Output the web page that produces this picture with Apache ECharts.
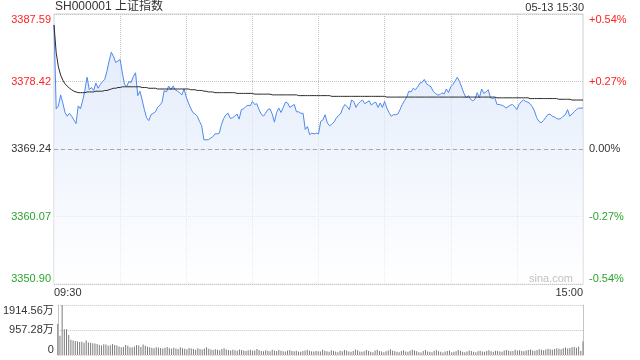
<!DOCTYPE html>
<html><head><meta charset="utf-8">
<script src="https://cdn.jsdelivr.net/npm/echarts@6/dist/echarts.min.js"></script>
<style>html,body{margin:0;padding:0;background:#fff}#c{width:640px;height:360px}</style>
</head><body><div id="c"></div>
<script>
const titleText = 'SH000001 上证指数';
const dateText = '05-13 15:30';
const watermark = 'sina.com';
const prevClose = 3369.24;
const priceTicks = ['3350.90', '3360.07', '3369.24', '3378.42', '3387.59'];
const pctTicks = ['-0.54%', '-0.27%', '0.00%', '+0.27%', '+0.54%'];
const volTicks = ['0', '957.28万', '1914.56万'];
const volMax = 1914.56;
const timeLabels = ['09:30', '15:00'];

const price = [
3386.1,3374.7,3375.1,3376.6,3375.5,3374.2,3373.7,3374.1,3373.7,3373.2,
3372.7,3375.1,3374.7,3375.8,3377.2,3379.0,3377.3,3377.6,3377.2,3378.2,
3377.5,3378.0,3378.4,3378.7,3379.8,3381.2,3382.4,3381.8,3381.0,3381.2,
3381.4,3379.6,3378.0,3377.8,3378.4,3378.3,3379.1,3379.6,3376.5,3377.1,
3375.9,3374.6,3373.5,3373.1,3373.9,3374.1,3374.3,3374.9,3375.2,3375.6,
3377.2,3377.0,3377.8,3377.3,3377.8,3377.3,3377.1,3376.9,3376.6,3377.4,
3376.3,3375.5,3374.8,3374.2,3374.0,3373.7,3373.0,3372.4,3370.5,3370.5,
3370.5,3370.7,3370.9,3371.3,3371.3,3371.4,3372.6,3373.4,3373.9,3374.1,
3373.4,3373.5,3373.7,3374.0,3373.3,3374.6,3374.7,3375.0,3375.2,3375.1,
3375.7,3375.3,3375.4,3374.6,3374.0,3373.7,3374.1,3374.6,3374.7,3374.0,
3372.9,3374.2,3374.8,3374.2,3374.9,3375.6,3375.5,3374.9,3375.1,3375.3,
3374.3,3374.3,3374.1,3374.1,3371.9,3372.3,3371.2,3371.4,3371.3,3371.4,
3371.3,3373.0,3373.2,3373.9,3372.8,3372.4,3372.6,3372.9,3373.4,3373.8,
3374.0,3374.8,3375.3,3375.0,3374.6,3375.9,3375.7,3374.9,3375.4,3375.7,
3375.9,3375.4,3375.6,3375.8,3375.2,3375.5,3375.6,3374.9,3375.5,3374.9,
3375.7,3374.8,3374.2,3373.7,3373.9,3373.9,3374.0,3374.6,3375.3,3375.8,
3376.3,3377.1,3377.0,3377.5,3377.3,3377.7,3378.2,3378.3,3378.7,3378.1,
3377.9,3377.7,3377.1,3376.8,3376.6,3376.6,3376.9,3376.7,3377.4,3376.9,
3377.7,3378.0,3378.5,3379.0,3378.4,3377.6,3376.8,3376.2,3376.5,3376.0,
3375.8,3376.0,3376.9,3376.2,3377.4,3376.8,3377.0,3377.3,3376.2,3376.1,
3376.2,3375.3,3375.3,3375.2,3375.1,3374.8,3375.0,3375.2,3375.3,3375.0,
3374.6,3375.3,3375.7,3375.9,3375.7,3375.6,3375.4,3375.0,3374.4,3373.5,
3373.0,3372.8,3373.1,3373.5,3373.9,3374.0,3373.7,3373.6,3373.4,3373.3,
3373.4,3373.7,3373.9,3374.6,3373.7,3374.0,3374.3,3374.6,3374.8,3374.8,
3374.8
];

const avgPrice = [
3386.1,3382.3,3380.4,3379.3,3378.6,3378.1,3377.8,3377.5,3377.3,3377.1,
3377.0,3376.9,3376.9,3376.9,3376.9,3377.0,3377.0,3377.0,3377.0,3377.1,
3377.1,3377.1,3377.1,3377.2,3377.2,3377.3,3377.4,3377.5,3377.5,3377.6,
3377.6,3377.7,3377.7,3377.7,3377.7,3377.7,3377.7,3377.7,3377.7,3377.7,
3377.6,3377.6,3377.6,3377.5,3377.5,3377.5,3377.5,3377.4,3377.4,3377.4,
3377.4,3377.4,3377.4,3377.4,3377.4,3377.4,3377.4,3377.4,3377.4,3377.4,
3377.4,3377.4,3377.3,3377.3,3377.3,3377.2,3377.2,3377.2,3377.1,3377.1,
3377.0,3377.0,3377.0,3376.9,3376.9,3376.9,3376.9,3376.9,3376.9,3376.9,
3376.9,3376.9,3376.9,3376.8,3376.8,3376.8,3376.8,3376.8,3376.8,3376.8,
3376.8,3376.7,3376.7,3376.7,3376.7,3376.7,3376.7,3376.7,3376.7,3376.6,
3376.6,3376.6,3376.6,3376.6,3376.6,3376.6,3376.6,3376.6,3376.6,3376.6,
3376.6,3376.5,3376.5,3376.5,3376.5,3376.5,3376.5,3376.5,3376.5,3376.5,
3376.5,3376.5,3376.5,3376.5,3376.5,3376.5,3376.4,3376.4,3376.4,3376.4,
3376.4,3376.4,3376.4,3376.4,3376.4,3376.4,3376.4,3376.4,3376.4,3376.4,
3376.4,3376.4,3376.4,3376.4,3376.4,3376.4,3376.4,3376.4,3376.4,3376.4,
3376.4,3376.3,3376.3,3376.3,3376.3,3376.3,3376.3,3376.3,3376.3,3376.3,
3376.3,3376.3,3376.3,3376.3,3376.3,3376.3,3376.3,3376.3,3376.3,3376.3,
3376.3,3376.3,3376.3,3376.3,3376.3,3376.3,3376.3,3376.3,3376.3,3376.3,
3376.3,3376.3,3376.3,3376.3,3376.3,3376.3,3376.3,3376.3,3376.3,3376.3,
3376.3,3376.3,3376.3,3376.3,3376.3,3376.3,3376.3,3376.3,3376.3,3376.3,
3376.3,3376.2,3376.2,3376.2,3376.2,3376.2,3376.2,3376.2,3376.2,3376.2,
3376.2,3376.2,3376.2,3376.2,3376.2,3376.2,3376.1,3376.1,3376.1,3376.1,
3376.1,3376.1,3376.1,3376.1,3376.1,3376.1,3376.1,3376.1,3376.1,3376.0,
3376.0,3376.0,3376.0,3376.0,3376.0,3375.9,3375.9,3375.9,3375.9,3375.9,
3375.9
];

// volume in 万
const volume = [
1200,740,1914.56,990,990,770,580,560,540,520,
500,510,470,560,480,470,450,440,420,380,
360,410,400,350,370,420,380,360,330,300,
310,380,350,300,290,330,380,360,310,400,
350,320,300,280,260,300,290,270,250,280,
310,260,240,280,250,230,300,260,240,220,
270,250,230,200,260,230,210,250,300,240,
210,190,220,200,180,230,260,210,190,170,
200,180,160,210,190,170,150,180,200,160,
170,230,190,150,140,180,160,140,200,170,
150,190,160,140,130,170,190,150,140,160,
130,120,150,170,200,160,140,130,150,140,
130,200,160,140,120,180,150,130,110,160,
140,190,170,130,120,150,210,180,130,120,
140,190,150,120,110,170,200,150,130,110,
140,170,220,160,140,120,110,150,180,130,
120,160,200,170,140,110,100,150,190,130,
120,110,160,180,140,120,100,130,150,170,
110,120,140,190,160,120,110,130,170,150,
120,110,140,160,130,120,150,180,140,120,
160,150,130,120,170,190,160,140,150,200,
170,180,150,140,170,190,210,170,160,190,
220,200,180,210,240,220,200,230,260,240,
220,260,290,250,270,300,310,280,330,150,
520
];

// minute categories 09:30-11:30, 13:01-15:00
const times = [];
function pad(n){ return (n < 10 ? '0' : '') + n; }
for (let m = 9*60+30; m <= 11*60+30; m++) times.push(pad(Math.floor(m/60)) + ':' + pad(m%60));
for (let m = 13*60+1; m <= 15*60; m++) times.push(pad(Math.floor(m/60)) + ':' + pad(m%60));
const lastIdx = times.length - 1;

const FONT = 'Arial, "Liberation Sans", "Noto Sans CJK SC", sans-serif';
const RED = '#f22', GREEN = '#2aa52a', DARK = '#333';
function tickColor(v){ const k = Math.round(Number(v)); return k > 2 ? RED : (k < 2 ? GREEN : DARK); }

const chart = echarts.init(document.getElementById('c'), null, {renderer: 'canvas'});
chart.setOption({
  animation: false,
  backgroundColor: '#fff',
  graphic: [
    {type: 'text', left: 55, top: 1, z: 100, style: {text: titleText, fill: '#333', font: '12px ' + FONT}},
    {type: 'text', right: 56, top: 2, z: 100, style: {text: dateText, fill: '#333', font: '11px ' + FONT}},
    {type: 'text', right: 67, top: 273, z: 100, style: {text: watermark, fill: '#c2c2c2', font: '11px ' + FONT}}
  ],
  grid: [
    {left: 54, top: 14, width: 529, height: 270, show: true, borderColor: '#d0d0d0', borderWidth: 1},
    {left: 54, top: 305, width: 529, height: 50}
  ],
  xAxis: [
    {gridIndex: 0, type: 'category', data: times, boundaryGap: false,
      axisLine: {show: false}, axisTick: {show: false},
      axisLabel: {interval: function(i){ return i === 0 || i === lastIdx; },
        formatter: function(v, i){ return i === 0 ? timeLabels[0] : timeLabels[1]; },
        alignMinLabel: 'left', alignMaxLabel: 'right',
        fontSize: 11, color: '#333', fontFamily: FONT, margin: 3},
      splitLine: {show: true, interval: function(i){ return i > 0 && i < lastIdx && i % 30 === 0; },
        lineStyle: {type: 'dotted', color: '#c4c4c4', width: 1}}},
    {gridIndex: 1, type: 'category', data: times, boundaryGap: false,
      axisLine: {show: false}, axisTick: {show: false}, axisLabel: {show: false}, splitLine: {show: false}}
  ],
  yAxis: [
    {gridIndex: 0, type: 'value', min: Number(priceTicks[0]), max: Number(priceTicks[priceTicks.length-1]), show: false},
    {gridIndex: 0, type: 'value', position: 'left', min: 0, max: priceTicks.length - 1, interval: 1,
      axisLine: {show: false}, axisTick: {show: false},
      splitLine: {show: true, lineStyle: {type: 'dotted', color: '#c4c4c4'}},
      axisLabel: {formatter: function(v){ return priceTicks[Math.round(v)]; }, color: tickColor,
        fontSize: 11, fontFamily: FONT, margin: 3,
        verticalAlignMinLabel: 'bottom', verticalAlignMaxLabel: 'top'}},
    {gridIndex: 0, type: 'value', position: 'right', min: 0, max: pctTicks.length - 1, interval: 1,
      axisLine: {show: false}, axisTick: {show: false}, splitLine: {show: false},
      axisLabel: {formatter: function(v){ return pctTicks[Math.round(v)]; }, color: tickColor,
        fontSize: 11, fontFamily: FONT, margin: 6,
        verticalAlignMinLabel: 'bottom', verticalAlignMaxLabel: 'top'}},
    {gridIndex: 1, type: 'value', position: 'left', min: 0, max: volMax, interval: volMax / 2,
      axisLine: {show: true, lineStyle: {color: '#c4c4c4'}}, axisTick: {show: false},
      splitLine: {show: true, lineStyle: {type: 'dotted', color: '#c4c4c4'}},
      axisLabel: {formatter: function(v){ return volTicks[Math.round(v / (volMax / 2))]; }, color: '#333',
        fontSize: 11, fontFamily: FONT, margin: 4,
        verticalAlignMinLabel: 'bottom', verticalAlignMaxLabel: 'top'}},
    {gridIndex: 1, type: 'value', position: 'right', min: 0, max: 1,
      axisLine: {show: true, lineStyle: {color: '#c4c4c4'}}, axisTick: {show: false},
      axisLabel: {show: false}, splitLine: {show: false}}
  ],
  series: [
    {type: 'line', name: 'price', xAxisIndex: 0, yAxisIndex: 0, data: price, showSymbol: false, symbol: 'none',
      lineStyle: {color: '#4f89ee', width: 1}, itemStyle: {color: '#4f89ee'},
      areaStyle: {origin: 'start', color: new echarts.graphic.LinearGradient(0, 0, 0, 1, [
        {offset: 0, color: '#d4e2f9'}, {offset: 1, color: '#ffffff'}])},
      markLine: {silent: true, symbol: ['none', 'none'], label: {show: false},
        lineStyle: {type: [4, 3], color: '#a8a8a8', width: 1}, data: [{yAxis: prevClose}]},
      z: 3},
    {type: 'line', name: 'avg', xAxisIndex: 0, yAxisIndex: 0, data: avgPrice, showSymbol: false, symbol: 'none',
      lineStyle: {color: '#2a2a2a', width: 1}, itemStyle: {color: '#2a2a2a'}, z: 4},
    {type: 'bar', name: 'vol', xAxisIndex: 1, yAxisIndex: 3, data: volume, barWidth: 1,
      itemStyle: {color: '#7a7a7a'}}
  ]
});
</script>
</body></html>
